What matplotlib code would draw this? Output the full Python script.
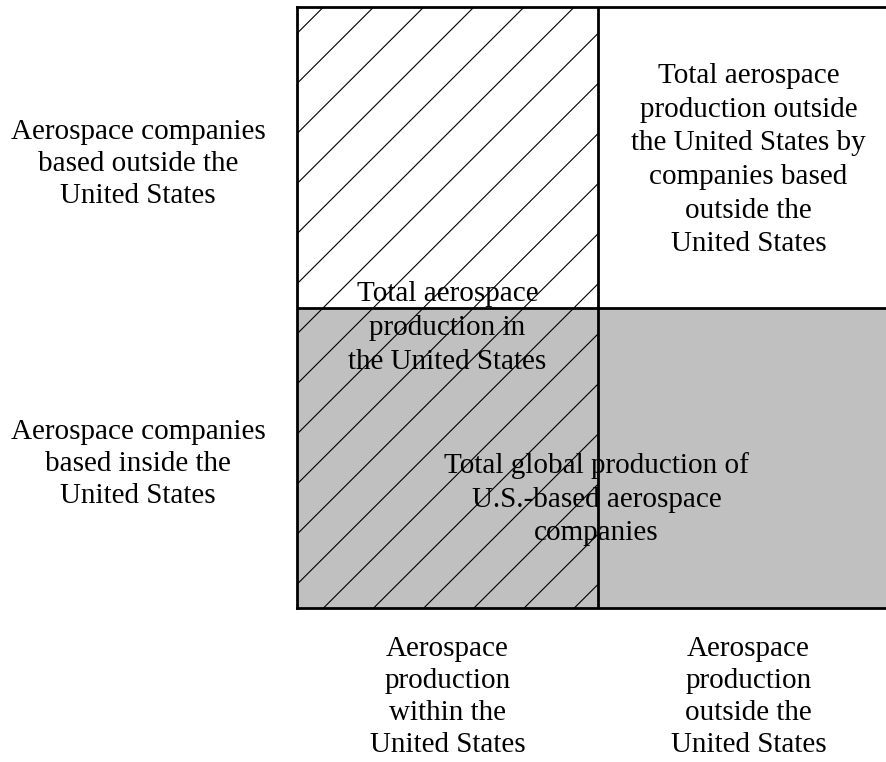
import matplotlib
matplotlib.use("Agg")
import matplotlib.pyplot as plt
from matplotlib.patches import Rectangle
import numpy as np

plt.rcParams['font.family'] = ['Liberation Serif', 'DejaVu Serif']

# ---- data ----
row_labels = ["Aerospace companies\nbased outside the\nUnited States",
              "Aerospace companies\nbased inside the\nUnited States"]
col_labels = ["Aerospace\nproduction\nwithin the\nUnited States",
              "Aerospace\nproduction\noutside the\nUnited States"]
cell_top_right = "Total aerospace\nproduction outside\nthe United States by\ncompanies based\noutside the\nUnited States"
cell_us_production = "Total aerospace\nproduction in\nthe United States"
cell_us_companies = "Total global production of\nU.S.-based aerospace\ncompanies"

gray = "#c0c0c0"
fs = 21
lsp_lab = 1.30
lsp_cell = 1.38

W, H = 886, 762
fig = plt.figure(figsize=(W / 100, H / 100), dpi=100)
left_px, right_px, top_px, bot_px = 297, 297 + 602, 7, 608
ax = fig.add_axes([left_px / W, 1 - bot_px / H, (right_px - left_px) / W, (bot_px - top_px) / H])
ax.set_xlim(0, 2)
ax.set_ylim(0, 2)
ax.set_xticks([])
ax.set_yticks([])
for s in ["left", "top", "bottom"]:
    ax.spines[s].set_linewidth(2)
ax.spines["right"].set_visible(False)

# bottom row gray (U.S.-based companies)
ax.add_patch(Rectangle((0, 0), 2, 1, facecolor=gray, edgecolor="none", zorder=1))

# hatch for left column (production in the U.S.)
clip = Rectangle((0, 0), 1, 2, facecolor="none", edgecolor="none", transform=ax.transData)
ax.add_patch(clip)
step = 1 / 6
offset = 0.088
for k in range(-3, 22):
    c = offset - 2 + k * step
    ys = np.array([-0.5, 2.5])
    xs = ys + c
    ln, = ax.plot(xs, ys, color="black", lw=0.8, zorder=2)
    ln.set_clip_path(clip)

# dividers
ax.plot([1, 1], [0, 2], color="black", lw=2, zorder=3)
ax.plot([0, 2], [1, 1], color="black", lw=2, zorder=3)

# cell texts
ax.text(1.5, 1.49, cell_top_right, ha="center", va="center", fontsize=fs, linespacing=lsp_cell, zorder=4)
ax.text(0.5, 0.932, cell_us_production, ha="center", va="center", fontsize=fs, linespacing=lsp_cell, zorder=4)
ax.text(0.995, 0.362, cell_us_companies, ha="center", va="center", fontsize=fs, linespacing=lsp_cell, zorder=4)

# row labels (left of axes)
for lab, y in zip(row_labels, [1.477, 0.48]):
    ax.text(-0.528, y, lab, ha="center", va="center", fontsize=fs, linespacing=lsp_lab, clip_on=False)

# column labels (below axes)
for lab, x in zip(col_labels, [0.5, 1.5]):
    ax.text(x, -0.295, lab, ha="center", va="center", fontsize=fs, linespacing=lsp_lab, clip_on=False)

fig.savefig("out.png", dpi=100)
